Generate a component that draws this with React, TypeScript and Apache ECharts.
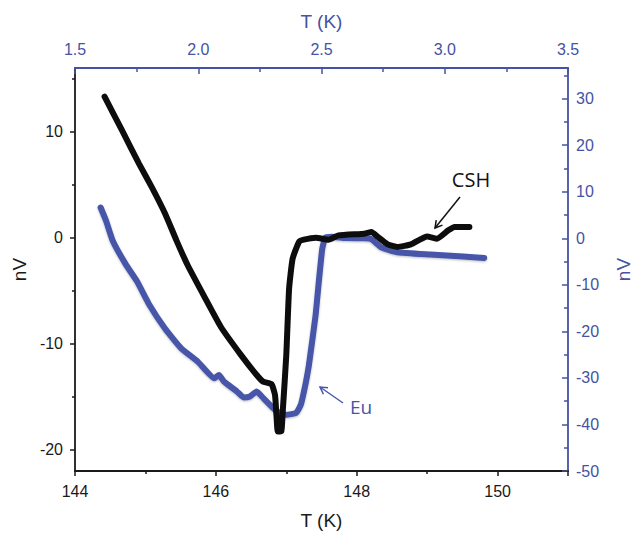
import React, { useEffect, useRef } from "react";
import * as echarts from "echarts";

// CSH (bottom T axis, left nV axis)
const cshT = [144.42,144.67,144.91,145.09,145.28,145.44,145.60,145.84,146.07,146.35,146.58,146.67,146.79,146.84,146.86,146.88,146.93,146.95,147.00,147.04,147.09,147.18,147.25,147.42,147.60,147.74,148.11,148.21,148.30,148.44,148.58,148.77,149.00,149.14,149.30,149.39,149.60];
const cshV = [13.29,10.09,6.96,4.77,2.26,-0.25,-2.6,-5.6,-8.4,-11.0,-12.95,-13.57,-13.80,-14.84,-16.72,-18.28,-18.25,-16.37,-11.07,-4.80,-1.98,-0.40,-0.19,0,-0.19,0.22,0.38,0.54,0.07,-0.63,-0.87,-0.63,0.12,-0.09,0.69,1.01,1.01];

// Eu (top T axis, right nV axis)
const euT = [1.604,1.626,1.653,1.706,1.752,1.799,1.865,1.931,1.998,2.065,2.084,2.104,2.157,2.184,2.210,2.237,2.264,2.304,2.330,2.357,2.396,2.416,2.423,2.436,2.449,2.476,2.489,2.503,2.516,2.542,2.596,2.675,2.702,2.742,2.808,2.941,3.074,3.160];
const euV = [6.62,3.76,-0.51,-5.6,-9.3,-14.04,-19.38,-23.65,-26.50,-30.06,-29.36,-30.77,-32.91,-34.19,-33.97,-32.91,-34.34,-36.47,-37.54,-37.91,-37.54,-35.77,-34.34,-31.1,-27.22,-16.54,-9.40,-2.29,0.21,0.34,0.06,0,-0.15,-1.92,-2.99,-3.50,-3.93,-4.21];

const leftMajor = [-20, -10, 0, 10];
const leftMinor = [-15, -5, 5, 15];

const BLUE = "#4656a8";
const AXBLUE = "#4453a3";
const BLACK = "#1a1a1a";
const FONT = "Liberation Sans, Arial, sans-serif";
const ANNOT_FONT = "Open Sans, sans-serif";

function arrow(x1: number, y1: number, x2: number, y2: number, color: string) {
  const dx = x2 - x1, dy = y2 - y1;
  const len = Math.hypot(dx, dy);
  const ux = dx / len, uy = dy / len;
  const L = 8, a = Math.PI / 6;
  const rot = (ang: number) => [
    x2 - L * (ux * Math.cos(ang) - uy * Math.sin(ang)),
    y2 - L * (ux * Math.sin(ang) + uy * Math.cos(ang)),
  ];
  return [
    { type: "line", shape: { x1, y1, x2, y2 }, style: { stroke: color, lineWidth: 1.5 }, z: 100 },
    {
      type: "polyline",
      shape: { points: [rot(a), [x2, y2], rot(-a)] },
      style: { stroke: color, lineWidth: 1.5, fill: "none" },
      z: 100,
    },
  ];
}

export default function App() {
  const ref = useRef<HTMLDivElement>(null);
  useEffect(() => {
    document.body.style.margin = "0";
    const chart = echarts.init(ref.current!, null, { renderer: "svg" });
    const option: any = {
      animation: false,
      backgroundColor: "#ffffff",
      grid: { left: 75, right: 64, top: 68, bottom: 62, containLabel: false },
      xAxis: [
        {
          type: "value",
          position: "bottom",
          min: 144,
          max: 151,
          interval: 2,
          name: "T (K)",
          nameLocation: "middle",
          nameGap: 40,
          nameTextStyle: { color: BLACK, fontSize: 19, fontFamily: FONT },
          axisLine: { show: true, onZero: false, lineStyle: { color: BLACK, width: 1.8 } },
          axisTick: { show: true, inside: false, length: 5, lineStyle: { color: BLACK, width: 1.5 } },
          minorTick: { show: true, splitNumber: 2, length: 3, lineStyle: { color: BLACK, width: 1.5 } },
          axisLabel: { color: BLACK, fontSize: 16, fontFamily: FONT, margin: 12, showMaxLabel: false },
          splitLine: { show: false },
        },
        {
          type: "value",
          position: "top",
          min: 1.5,
          max: 3.5,
          interval: 0.5,
          name: "T (K)",
          nameLocation: "middle",
          nameGap: 37,
          nameTextStyle: { color: AXBLUE, fontSize: 19, fontFamily: FONT },
          axisLine: { show: true, onZero: false, lineStyle: { color: AXBLUE, width: 1.8 } },
          axisTick: { show: true, inside: true, length: 6, lineStyle: { color: AXBLUE, width: 1.5 } },
          minorTick: { show: true, splitNumber: 2, length: 4, lineStyle: { color: AXBLUE, width: 1.5 } },
          axisLabel: {
            color: AXBLUE,
            fontSize: 16,
            fontFamily: FONT,
            margin: 11,
            formatter: (v: number) => v.toFixed(1),
          },
          splitLine: { show: false },
        },
      ],
      yAxis: [
        {
          type: "value",
          position: "left",
          min: -22,
          max: 16,
          name: "nV",
          nameLocation: "middle",
          nameGap: 42,
          nameRotate: 90,
          nameTextStyle: { color: BLACK, fontSize: 19, fontFamily: FONT },
          axisLine: { show: true, onZero: false, lineStyle: { color: BLACK, width: 1.8 } },
          axisTick: { show: true, inside: false, length: 5, customValues: leftMajor, lineStyle: { color: BLACK, width: 1.5 } },
          axisLabel: { color: BLACK, fontSize: 16, fontFamily: FONT, margin: 12, customValues: leftMajor },
          splitLine: { show: false },
        },
        {
          type: "value",
          position: "right",
          min: -50,
          max: 36.6,
          interval: 10,
          name: "nV",
          nameLocation: "middle",
          nameGap: 46,
          nameRotate: 90,
          nameTextStyle: { color: AXBLUE, fontSize: 19, fontFamily: FONT },
          axisLine: { show: true, onZero: false, lineStyle: { color: AXBLUE, width: 1.8 } },
          axisTick: { show: true, inside: true, length: 6, lineStyle: { color: AXBLUE, width: 1.5 } },
          minorTick: { show: true, splitNumber: 2, length: 4, lineStyle: { color: AXBLUE, width: 1.5 } },
          axisLabel: { color: AXBLUE, fontSize: 16, fontFamily: FONT, margin: 8, showMaxLabel: false },
          splitLine: { show: false },
        },
        {
          type: "value",
          position: "left",
          min: -22,
          max: 16,
          axisLine: { show: false },
          axisTick: { show: true, inside: false, length: 3, customValues: leftMinor, lineStyle: { color: BLACK, width: 1.5 } },
          axisLabel: { show: false },
          splitLine: { show: false },
        },
      ],
      series: [
        {
          name: "Eu",
          type: "line",
          xAxisIndex: 1,
          yAxisIndex: 1,
          showSymbol: false,
          smooth: 0.15,
          data: euT.map((t, i) => [t, euV[i]]),
          lineStyle: {
            color: BLUE,
            width: 6,
            cap: "round",
            join: "round",
            shadowColor: "rgba(0,0,0,0.25)",
            shadowBlur: 2,
            shadowOffsetY: 1,
          },
          z: 2,
        },
        {
          name: "CSH",
          type: "line",
          xAxisIndex: 0,
          yAxisIndex: 0,
          showSymbol: false,
          smooth: 0.15,
          data: cshT.map((t, i) => [t, cshV[i]]),
          lineStyle: { color: "#0d0d0d", width: 6, cap: "round", join: "round" },
          z: 3,
        },
      ],
      graphic: [
        {
          type: "text",
          x: 471,
          y: 179,
          style: {
            text: "CSH",
            fill: "#111",
            font: `20px ${ANNOT_FONT}`,
            textAlign: "center",
            textVerticalAlign: "middle",
          },
          z: 100,
        },
        ...arrow(460, 197, 435, 228, "#111"),
        {
          type: "text",
          x: 350,
          y: 407,
          style: {
            text: "Eu",
            fill: BLUE,
            font: `19px ${ANNOT_FONT}`,
            textAlign: "left",
            textVerticalAlign: "middle",
          },
          z: 100,
        },
        ...arrow(343, 403, 320, 387, BLUE),
      ],
    };
    chart.setOption(option);
    return () => chart.dispose();
  }, []);
  return <div ref={ref} style={{ width: 641, height: 535 }} />;
}
